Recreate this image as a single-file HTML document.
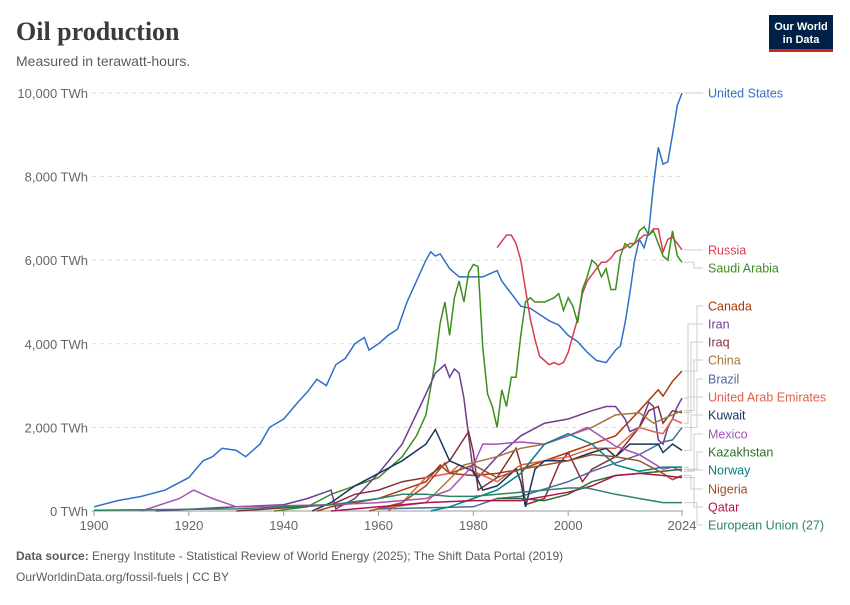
<!DOCTYPE html>
<html><head><meta charset="utf-8"><style>
body{margin:0;width:850px;height:600px;background:#fff;font-family:"Liberation Sans",sans-serif;overflow:hidden}
</style></head><body>
<svg id="c" width="850" height="600" xmlns="http://www.w3.org/2000/svg">
<text x="16" y="40" font-family="Liberation Serif,serif" font-size="26" font-weight="bold" fill="#3b3b3b">Oil production</text>
<text x="16" y="66" font-size="14" fill="#5b5b5b">Measured in terawatt-hours.</text>
<g><rect x="769" y="15" width="64" height="35" fill="#002147"/><rect x="769" y="49" width="64" height="3" fill="#ce261e"/>
<text x="801" y="30" font-size="11" fill="#fff" text-anchor="middle" font-weight="bold">Our World</text><text x="801" y="43" font-size="11" fill="#fff" text-anchor="middle" font-weight="bold">in Data</text></g>
<g id="grid"></g><g id="lines"></g><g id="labels"></g>
<text x="16" y="560" font-size="12" fill="#5b5b5b"><tspan font-weight="bold">Data source:</tspan> Energy Institute - Statistical Review of World Energy (2025); The Shift Data Portal (2019)</text>
<text x="16" y="581" font-size="12" fill="#5b5b5b">OurWorldinData.org/fossil-fuels | CC BY</text>
</svg>
<script>
const yTicks=[0,2000,4000,6000,8000,10000];
const xTicks=[1900,1920,1940,1960,1980,2000,2024];
const names=["United States","Russia","Saudi Arabia","Canada","Iran","Iraq","China","Brazil","United Arab Emirates","Kuwait","Mexico","Kazakhstan","Norway","Nigeria","Qatar","European Union (27)"];
const colors=["#2f6fc8","#d73c50","#3c8f1e","#b13507","#6d3e91","#883039","#a2763d","#4c6a9c","#e0614a","#18335f","#a652ba","#286f2a","#00847e","#9a5129","#b2124c","#2c8465"];
const labelY=[93,250,268,306,324,342,360,379,397,415,434,452,470,489,507,525];
const usData=[[1900,100],[1905,250],[1910,350],[1915,500],[1920,800],[1923,1200],[1925,1300],[1927,1500],[1930,1450],[1932,1300],[1935,1600],[1937,2000],[1940,2200],[1943,2600],[1945,2850],[1947,3150],[1949,3000],[1951,3500],[1953,3650],[1955,4000],[1957,4150],[1958,3850],[1960,4000],[1962,4200],[1964,4350],[1966,5000],[1968,5500],[1970,6000],[1971,6200],[1972,6100],[1973,6150],[1975,5800],[1977,5600],[1980,5600],[1982,5600],[1984,5700],[1985,5750],[1986,5500],[1988,5200],[1990,4900],[1992,4850],[1994,4700],[1996,4550],[1998,4450],[2000,4200],[2002,4050],[2004,3800],[2006,3600],[2008,3550],[2009,3700],[2010,3850],[2011,3950],[2012,4500],[2013,5200],[2014,6000],[2015,6500],[2016,6300],[2017,6700],[2018,7800],[2019,8700],[2020,8300],[2021,8350],[2022,9000],[2023,9700],[2024,10000]];
const russiaData=[[1985,6300],[1987,6600],[1988,6600],[1989,6400],[1990,6000],[1991,5300],[1992,4600],[1993,4100],[1994,3700],[1995,3600],[1996,3500],[1997,3550],[1998,3500],[1999,3550],[2000,3800],[2001,4200],[2002,4600],[2003,5200],[2004,5500],[2005,5650],[2006,5800],[2007,5950],[2008,5950],[2009,6050],[2010,6200],[2011,6250],[2012,6300],[2013,6400],[2014,6400],[2015,6500],[2016,6600],[2017,6600],[2018,6750],[2019,6750],[2020,6200],[2021,6500],[2022,6550],[2023,6400],[2024,6250]];
const saudiData=[[1938,0],[1945,100],[1950,400],[1955,600],[1960,800],[1965,1300],[1968,1800],[1970,2300],[1972,3600],[1973,4500],[1974,5000],[1975,4200],[1976,5100],[1977,5500],[1978,5000],[1979,5700],[1980,5900],[1981,5850],[1982,3900],[1983,2800],[1984,2500],[1985,2000],[1986,2900],[1987,2500],[1988,3200],[1989,3200],[1990,4200],[1991,5000],[1992,5100],[1993,5000],[1995,5000],[1997,5100],[1998,5200],[1999,4800],[2000,5100],[2001,4900],[2002,4500],[2003,5300],[2004,5600],[2005,6000],[2006,5900],[2007,5600],[2008,5800],[2009,5300],[2010,5300],[2011,6100],[2012,6400],[2013,6300],[2014,6400],[2015,6700],[2016,6800],[2017,6600],[2018,6700],[2019,6400],[2020,6100],[2021,6000],[2022,6700],[2023,6100],[2024,5950]];
const canadaData=[[1947,0],[1950,100],[1960,300],[1970,700],[1973,1100],[1975,900],[1980,850],[1985,900],[1990,1000],[1995,1200],[2000,1400],[2005,1600],[2010,1800],[2015,2400],[2019,2900],[2020,2750],[2022,3100],[2024,3350]];
const iranData=[[1913,0],[1930,100],[1940,150],[1945,300],[1950,500],[1951,50],[1955,300],[1960,900],[1965,1600],[1970,2800],[1972,3300],[1974,3500],[1975,3200],[1976,3400],[1977,3300],[1978,2700],[1979,1800],[1980,900],[1981,800],[1985,1300],[1990,1800],[1995,2100],[2000,2200],[2005,2400],[2008,2500],[2010,2500],[2012,2200],[2013,1900],[2015,2000],[2017,2600],[2018,2500],[2019,1700],[2020,1600],[2021,2000],[2022,2200],[2023,2500],[2024,2700]];
const iraqData=[[1930,0],[1950,150],[1955,400],[1960,500],[1965,700],[1970,800],[1975,1200],[1979,1900],[1980,1400],[1981,500],[1985,800],[1989,1500],[1990,1100],[1991,150],[1995,300],[1998,1100],[2000,1400],[2003,700],[2005,1000],[2010,1300],[2015,2000],[2017,2400],[2019,2500],[2020,2100],[2022,2400],[2024,2350]];
const chinaData=[[1960,50],[1970,200],[1978,1100],[1985,1300],[1990,1500],[1995,1600],[2000,1800],[2005,2000],[2010,2300],[2015,2350],[2018,2100],[2020,2200],[2024,2400]];
const brazilData=[[1960,50],[1980,100],[1985,300],[1990,350],[2000,700],[2005,950],[2010,1150],[2015,1350],[2020,1650],[2022,1700],[2024,2000]];
const uaeData=[[1962,0],[1965,200],[1970,800],[1975,900],[1977,1100],[1980,950],[1985,700],[1990,1100],[1995,1200],[2000,1300],[2005,1500],[2010,1500],[2015,2000],[2018,1900],[2020,1850],[2022,2200],[2024,2100]];
const kuwaitData=[[1946,0],[1950,200],[1955,600],[1960,900],[1965,1200],[1970,1600],[1972,1950],[1975,1200],[1980,950],[1982,500],[1985,600],[1989,1000],[1990,700],[1991,100],[1993,1000],[1995,1200],[2000,1200],[2005,1400],[2008,1500],[2010,1300],[2013,1600],[2015,1600],[2019,1600],[2020,1400],[2022,1600],[2024,1450]];
const mexicoData=[[1910,0],[1918,300],[1921,500],[1925,300],[1930,100],[1950,150],[1960,200],[1970,300],[1975,500],[1980,1100],[1982,1600],[1985,1600],[1990,1650],[1995,1600],[2000,1800],[2004,2000],[2008,1700],[2010,1550],[2015,1350],[2020,1000],[2022,1050],[2024,950]];
const kazData=[[1985,300],[1990,300],[1995,250],[2000,400],[2005,700],[2010,850],[2015,900],[2020,950],[2024,1000]];
const norwayData=[[1971,0],[1975,100],[1980,300],[1985,500],[1990,900],[1995,1600],[2000,1850],[2001,1800],[2005,1600],[2010,1100],[2015,950],[2020,1050],[2024,1050]];
const nigeriaData=[[1958,0],[1965,200],[1970,600],[1974,1150],[1975,900],[1980,1100],[1985,800],[1990,1000],[1995,1100],[2000,1200],[2005,1350],[2010,1300],[2015,1200],[2020,900],[2022,750],[2024,850]];
const qatarData=[[1950,0],[1960,100],[1970,200],[1980,250],[1990,250],[2000,450],[2005,600],[2010,850],[2015,900],[2020,850],[2024,800]];
const euData=[[1900,20],[1930,50],[1940,100],[1950,150],[1960,300],[1965,400],[1970,400],[1975,350],[1980,350],[1985,400],[1990,450],[1995,500],[2000,550],[2004,550],[2010,400],[2015,300],[2020,200],[2024,200]];
const series=[usData,russiaData,saudiData,canadaData,iranData,iraqData,chinaData,brazilData,uaeData,kuwaitData,mexicoData,kazData,norwayData,nigeriaData,qatarData,euData];
const NS="http://www.w3.org/2000/svg";
const x=yr=>94+(yr-1900)*(588/124);
const y=v=>511-v*0.0418;
function mk(t,a,p){const e=document.createElementNS(NS,t);for(const k in a)e.setAttribute(k,a[k]);p.appendChild(e);return e;}
const grid=document.getElementById('grid'),lines=document.getElementById('lines'),labels=document.getElementById('labels');
yTicks.forEach(v=>{
 const l=mk('line',{x1:92,x2:683,y1:y(v),y2:y(v),stroke:v?'#dadada':'#999','stroke-dasharray':v?'4,4':'none'},grid);
 
 
 const t=mk('text',{x:88,y:y(v)+5,'text-anchor':'end','font-size':13,fill:'#666'},grid);
 t.textContent=v.toLocaleString('en-US')+' TWh';
 
 
});
xTicks.forEach(v=>{
 mk('line',{x1:x(v),x2:x(v),y1:511,y2:516,stroke:'#999'},grid);
 const t=mk('text',{x:x(v),y:530,'text-anchor':'middle','font-size':13,fill:'#666'},grid);
 t.textContent=v;
 
 
});
series.forEach((d,i)=>{
 const p=mk('path',{d:d.map((q,j)=>(j?'L':'M')+x(q[0]).toFixed(1)+','+y(q[1]).toFixed(1)).join(''),fill:'none',stroke:colors[i],'stroke-width':1.5},lines);
 
 
 const last=d[d.length-1];const ey=y(last[1]),ly=labelY[i];
 const mx=688+(i%4)*3;
 mk('path',{d:`M${x(last[0])+2},${ey}H${mx}V${ly}H703`,fill:'none',stroke:'#ccc','stroke-width':1},labels);
 const t=mk('text',{x:708,y:ly+4.5,'font-size':12.5,fill:colors[i]},labels);
 t.textContent=names[i];
 
 
});
</script>
</body></html>
